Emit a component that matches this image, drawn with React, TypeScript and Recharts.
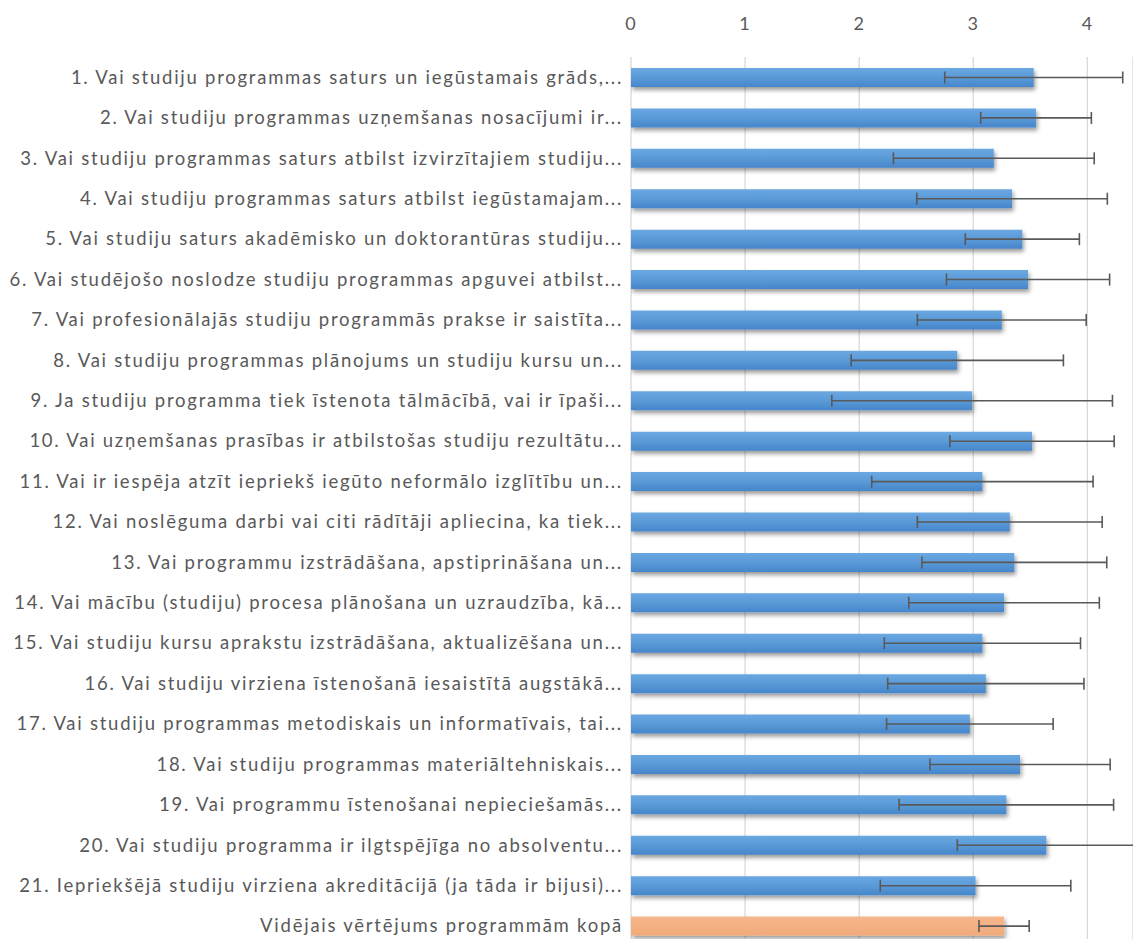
import React from "react";
import { BarChart, Bar, XAxis, YAxis, CartesianGrid, ErrorBar, Cell } from "recharts";

const questions: string[] = [
  "1. Vai studiju programmas saturs un iegūstamais grāds,...",
  "2. Vai studiju programmas uzņemšanas nosacījumi ir...",
  "3. Vai studiju programmas saturs atbilst izvirzītajiem studiju...",
  "4. Vai studiju programmas saturs atbilst iegūstamajam...",
  "5. Vai studiju saturs akadēmisko un doktorantūras studiju...",
  "6. Vai studējošo noslodze studiju programmas apguvei atbilst...",
  "7. Vai profesionālajās studiju programmās prakse ir saistīta...",
  "8. Vai studiju programmas plānojums un studiju kursu un...",
  "9. Ja studiju programma tiek īstenota tālmācībā, vai ir īpaši...",
  "10. Vai uzņemšanas prasības ir atbilstošas studiju rezultātu...",
  "11. Vai ir iespēja atzīt iepriekš iegūto neformālo izglītību un...",
  "12. Vai noslēguma darbi vai citi rādītāji apliecina, ka tiek...",
  "13. Vai programmu izstrādāšana, apstiprināšana un...",
  "14. Vai mācību (studiju) procesa plānošana un uzraudzība, kā...",
  "15. Vai studiju kursu aprakstu izstrādāšana, aktualizēšana un...",
  "16. Vai studiju virziena īstenošanā iesaistītā augstākā...",
  "17. Vai studiju programmas metodiskais un informatīvais, tai...",
  "18. Vai studiju programmas materiāltehniskais...",
  "19. Vai programmu īstenošanai nepieciešamās...",
  "20. Vai studiju programma ir ilgtspējīga no absolventu...",
  "21. Iepriekšējā studiju virziena akreditācijā (ja tāda ir bijusi)...",
  "Vidējais vērtējums programmām kopā",
];

const means: number[] = [
  3.53, 3.55, 3.18, 3.34, 3.43, 3.48, 3.25, 2.86, 2.99, 3.515, 3.08,
  3.32, 3.36, 3.27, 3.08, 3.11, 2.97, 3.41, 3.29, 3.64, 3.02, 3.27,
];

const deviations: number[] = [
  0.78, 0.485, 0.88, 0.835, 0.5, 0.715, 0.74, 0.93, 1.23, 0.72, 0.97,
  0.81, 0.81, 0.835, 0.86, 0.86, 0.73, 0.79, 0.94, 0.78, 0.835, 0.22,
];

const xTicks: number[] = [0, 1, 2, 3, 4];

const data = questions.map((name, i) => ({ name, value: means[i], err: deviations[i] }));

export default function App() {
  return (
    <div
      style={{
        position: "fixed",
        left: 0,
        top: 0,
        width: 1133,
        height: 939,
        overflow: "hidden",
        background: "#ffffff",
      }}
    >
      <BarChart
        width={1133}
        height={946}
        data={data}
        layout="vertical"
        margin={{ top: 17, right: 0, bottom: 0, left: 0 }}
        barCategoryGap={0}
      >
        <defs>
          <linearGradient id="blueGrad" x1="0" y1="0" x2="0" y2="1">
            <stop offset="0%" stopColor="#6BA8E2" />
            <stop offset="55%" stopColor="#5898D6" />
            <stop offset="100%" stopColor="#4686CB" />
          </linearGradient>
          <linearGradient id="orangeGrad" x1="0" y1="0" x2="0" y2="1">
            <stop offset="0%" stopColor="#F6B78C" />
            <stop offset="100%" stopColor="#F1AA79" />
          </linearGradient>
          <filter id="barShadow" x="-5%" y="-50%" width="110%" height="220%">
            <feDropShadow dx="1.5" dy="3" stdDeviation="2" floodColor="#000000" floodOpacity="0.4" />
          </filter>
        </defs>
        <CartesianGrid horizontal={false} stroke="#D9D9D9" strokeWidth={1.3} />
        <XAxis
          type="number"
          orientation="top"
          domain={[0, 4.4]}
          ticks={xTicks}
          allowDataOverflow
          axisLine={false}
          tickLine={false}
          tickSize={0}
          tickMargin={27}
          height={40}
          tick={{ fill: "#595959", fontSize: 18, fontFamily: "Lato", letterSpacing: 1 }}
        />
        <YAxis
          type="category"
          dataKey="name"
          width={631}
          axisLine={false}
          tickLine={false}
          tickSize={0}
          tickMargin={8}
          interval={0}
          tick={{ fill: "#595959", fontSize: 18.5, fontFamily: "Lato", letterSpacing: 1.75 }}
        />
        <Bar
          dataKey="value"
          barSize={19}
          isAnimationActive={false}
          style={{ filter: "url(#barShadow)" }}
        >
          {data.map((d, i) => (
            <Cell key={i} fill={i === data.length - 1 ? "url(#orangeGrad)" : "url(#blueGrad)"} />
          ))}
          <ErrorBar
            dataKey="err"
            direction="x"
            width={6}
            stroke="#595959"
            strokeWidth={1.6}
            isAnimationActive={false}
          />
        </Bar>
      </BarChart>
    </div>
  );
}
